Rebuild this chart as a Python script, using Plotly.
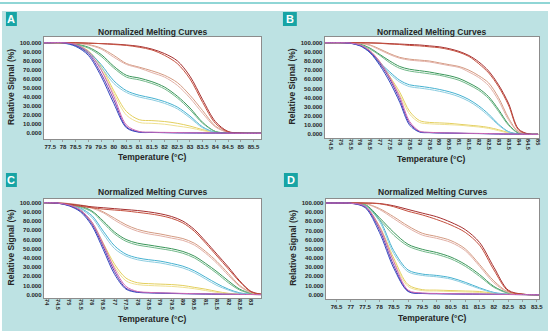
import plotly.graph_objects as go

W, H = 554, 334

# ---------------- Panel A ----------------
A_TEMP = [77.25, 77.5, 78, 78.5, 79, 79.5, 80, 80.5, 81, 81.5, 82, 82.5, 83, 83.5, 84, 84.5, 85, 85.5, 85.8]
A_PURPLE = [
    [100, 100, 100, 97, 88, 66, 37, 7, 1.5, 1, 0.8, 0.6, 0.5, 0.4, 0.3, 0.1, 0, 0, 0],
    [100, 100, 100, 96, 86, 63, 33, 6, 1.2, 0.9, 0.7, 0.5, 0.4, 0.3, 0.2, 0.1, 0, 0, 0],
    [100, 100, 100, 98, 90, 70, 41, 9, 2, 1.2, 1, 0.8, 0.6, 0.5, 0.3, 0.1, 0, 0, 0],
]
A_YELLOW = [
    [100, 100, 100, 98, 91, 74, 47, 24, 15, 14, 13, 11, 8, 4, 1, 0, 0, 0, 0],
    [100, 100, 100, 97, 89, 71, 44, 20, 12, 11, 10, 8, 6, 3, 0.8, 0, 0, 0, 0],
]
A_CYAN = [
    [100, 100, 99.5, 97, 90, 76, 58, 47, 42, 39, 35, 29, 19, 7, 1, 0, 0, 0, 0],
    [100, 100, 99.5, 96, 88, 73, 55, 45, 40, 37, 33, 27, 17, 6, 1, 0, 0, 0, 0],
]
A_GREEN = [
    [100, 100, 99.8, 98.5, 95, 87, 74, 64, 61, 57, 51, 41, 28, 12, 2, 0.3, 0, 0, 0],
    [100, 100, 99.8, 98, 94, 85, 72, 62, 59, 55, 49, 39, 26, 11, 2, 0.3, 0, 0, 0],
]
A_SALMON = [
    [100, 100, 100, 99.5, 98, 94, 86, 77, 73, 69, 64, 56, 42, 25, 8, 1, 0, 0, 0],
    [100, 100, 100, 99.5, 97.5, 93, 84, 76, 72, 67, 62, 53, 39, 22, 7, 1, 0, 0, 0],
]
A_RED = [
    [100, 100, 100, 100, 99.5, 99, 98.5, 97.5, 96, 93, 88, 80, 63, 37, 13, 2, 0.3, 0, 0],
    [100, 100, 100, 100, 99.5, 99, 98, 97, 95, 92, 86, 77, 60, 34, 11, 1.5, 0.2, 0, 0],
]
A_XTICKS = ["77.5", "78", "78.5", "79", "79.5", "80", "80.5", "81", "81.5", "82",
            "82.5", "83", "83.5", "84", "84.5", "85", "85.5"]

# ---------------- Panel B ----------------
B_TEMP = [74.2, 74.5, 75, 75.5, 76, 76.5, 77, 77.5, 78, 78.5, 79, 79.5, 80, 80.5, 81,
          81.5, 82, 82.5, 83, 83.5, 84, 84.5, 85]
B_PURPLE = [
    [100, 100, 100, 99.5, 97, 90, 77, 60, 38, 12, 3, 2, 1.6, 1.4, 1.2, 1, 0.9, 0.7, 0.5, 0.3, 0.1, 0, 0],
    [100, 100, 100, 99.3, 96.5, 89, 75, 57, 35, 10, 2.5, 1.8, 1.5, 1.3, 1.1, 0.9, 0.8, 0.6, 0.4, 0.2, 0.1, 0, 0],
    [100, 100, 100, 99.6, 97.5, 91, 79, 62, 41, 14, 3.5, 2.2, 1.8, 1.5, 1.3, 1.1, 1, 0.8, 0.6, 0.3, 0.1, 0, 0],
]
B_YELLOW = [
    [100, 100, 100, 99.6, 97.5, 91, 79, 63, 46, 25, 15, 13, 12.5, 12, 11, 10, 9, 7.5, 5, 2, 0.3, 0, 0],
    [100, 100, 100, 99.5, 97, 90, 78, 61, 43, 22, 13, 11.5, 11, 10.5, 10, 9, 8, 6.5, 4, 1.5, 0.2, 0, 0],
]
B_CYAN = [
    [100, 100, 100, 99.6, 97, 90, 78, 68, 59, 54, 52.5, 51, 49, 46.5, 43, 38, 31, 22, 11, 3, 0.5, 0, 0],
    [100, 100, 100, 99.5, 96.5, 89, 76, 66, 57, 52, 50.5, 49, 47, 44.5, 41, 36, 29, 20, 10, 2.5, 0.4, 0, 0],
]
B_GREEN = [
    [100, 100, 100, 99.8, 98.5, 94, 87, 80, 74, 71, 69.5, 68, 66, 64, 61, 56, 50, 41, 27, 11, 1.5, 0, 0],
    [100, 100, 100, 99.7, 98, 93, 86, 78, 72, 69, 67.5, 66, 64.5, 62, 59, 54, 48, 39, 25, 10, 1.2, 0, 0],
]
B_SALMON = [
    [100, 100, 100, 100, 99.5, 97.5, 93, 88, 84, 82, 81, 80, 78, 76, 74, 70, 64, 56, 40, 18, 3, 0.3, 0],
    [100, 100, 100, 100, 99.3, 97, 92, 87, 83, 81, 80, 79, 77, 75, 73, 68, 62, 53, 37, 16, 2.5, 0.2, 0],
]
B_RED = [
    [100, 100, 100, 100, 100, 99.8, 99.5, 99, 98.5, 98, 97.5, 96.5, 95.5, 93.5, 90.5, 86, 79, 69, 54, 34, 6, 0.5, 0],
    [100, 100, 100, 100, 100, 99.7, 99.3, 98.5, 98, 97, 96.5, 95.5, 94.5, 92.5, 89.5, 85, 77, 67, 52, 32, 5, 0.4, 0],
]
B_XTICKS = ["74.5", "75", "75.5", "76", "76.5", "77", "77.5", "78", "78.5", "79", "79.5",
            "80", "80.5", "81", "81.5", "82", "82.5", "83", "83.5", "84", "84.5", "85"]

# ---------------- Panel C ----------------
C_TEMP = [73.88, 74, 74.5, 75, 75.5, 76, 76.5, 77, 77.5, 78, 78.5, 79, 79.5, 80, 80.5,
          81, 81.5, 82, 82.5, 83, 83.44]
C_PURPLE = [
    [100, 100, 99.5, 97, 91, 77, 52, 25, 7, 3, 2.2, 1.8, 1.5, 1.2, 1, 0.8, 0.6, 0.4, 0.3, 0.2, 0.1],
    [100, 100, 99.4, 96.5, 90, 75, 49, 22, 6, 2.5, 2, 1.6, 1.3, 1.1, 0.9, 0.7, 0.5, 0.4, 0.3, 0.2, 0.1],
    [100, 100, 99.6, 97.5, 92, 79, 55, 28, 9, 3.5, 2.5, 2, 1.7, 1.4, 1.1, 0.9, 0.7, 0.5, 0.3, 0.2, 0.1],
]
C_YELLOW = [
    [100, 100, 99.6, 97.5, 92, 79, 56, 33, 18, 13, 12, 11.5, 11, 10, 8, 6, 3.5, 1.5, 0.5, 0.2, 0.1],
    [100, 100, 99.5, 97, 91, 78, 54, 30, 15, 11, 10, 9.5, 9, 8, 6.5, 4.5, 2.5, 1, 0.4, 0.2, 0.1],
]
C_CYAN = [
    [100, 100, 99.7, 98, 94, 86, 69, 53, 44, 40, 38, 36.5, 34, 31, 26, 19, 12, 6, 2, 0.5, 0.2],
    [100, 100, 99.6, 97.5, 93, 84, 66, 50, 42, 38, 36, 34.5, 32, 29, 24, 17, 10, 5, 1.5, 0.4, 0.2],
]
C_GREEN = [
    [100, 100, 99.8, 98.5, 96, 91, 80, 68, 60, 56, 54, 52, 50, 47, 42, 34, 25, 15, 6, 1.5, 0.3],
    [100, 100, 99.7, 98, 95, 90, 78, 66, 58, 54, 52, 50, 48, 45, 40, 32, 23, 13, 5, 1.2, 0.3],
]
C_SALMON = [
    [100, 100, 100, 99, 97.5, 95, 90, 83, 76, 71, 68, 66, 63.5, 61, 56, 47, 36, 23, 10, 2.5, 0.5],
    [100, 100, 100, 98.8, 97, 94, 89, 81, 74, 69, 66, 64, 61.5, 59, 54, 45, 34, 21, 9, 2, 0.4],
]
C_RED = [
    [100, 100, 99.5, 98.5, 97, 95.5, 94.5, 93.5, 92.5, 91.5, 90, 88, 85, 80, 71, 58, 44, 30, 15, 3.5, 0.5],
    [100, 100, 99.3, 98, 96, 94.5, 93, 92, 91, 89.5, 88, 86, 83, 78, 69, 56, 42, 28, 14, 3, 0.5],
]
C_XTICKS = ["74", "74.5", "75", "75.5", "76", "76.5", "77", "77.5", "78", "78.5",
            "79", "79.5", "80", "80.5", "81", "81.5", "82", "82.5", "83"]

# ---------------- Panel D ----------------
D_TEMP = [76.1, 76.5, 77, 77.5, 78, 78.5, 79, 79.5, 80, 80.5, 81, 81.5, 82, 82.5, 83, 83.5, 83.6]
D_PURPLE = [
    [100, 100, 99.8, 96, 71, 32, 4, 1.5, 1.2, 1, 0.8, 0.6, 0.4, 0.2, 0.1, 0, 0],
    [100, 100, 99.7, 95, 68, 29, 3.5, 1.3, 1, 0.8, 0.6, 0.5, 0.3, 0.2, 0.1, 0, 0],
    [100, 100, 99.8, 96.5, 74, 36, 5, 1.8, 1.4, 1.1, 0.9, 0.7, 0.5, 0.3, 0.1, 0, 0],
]
D_YELLOW = [
    [100, 100, 99.8, 96.5, 75, 40, 11, 5.5, 5, 4.5, 4, 3.5, 1.5, 0.5, 0.1, 0, 0],
    [100, 100, 99.7, 96, 73, 37, 9, 4.5, 4, 3.5, 3, 2.5, 1, 0.3, 0.1, 0, 0],
]
D_CYAN = [
    [100, 100, 99.8, 97.5, 82, 48, 27, 22.5, 21, 18.5, 13.5, 7.5, 2.5, 0.6, 0.2, 0, 0],
    [100, 100, 99.7, 97, 80, 45, 25, 21, 19.5, 17, 12, 6.5, 2, 0.5, 0.2, 0, 0],
]
D_GREEN = [
    [100, 100, 99.9, 98.5, 84, 68, 55, 49.5, 46, 41, 33, 22, 9, 2, 0.4, 0, 0],
    [100, 100, 99.8, 98, 82, 65, 53, 47.5, 44, 39, 31, 20, 8, 1.6, 0.3, 0, 0],
]
D_SALMON = [
    [100, 100, 100, 99.5, 94, 85, 75, 67, 63.5, 59, 50, 33, 15, 3, 0.5, 0, 0],
    [100, 100, 100, 99.3, 93, 83, 73, 65, 61.5, 57, 48, 31, 13, 2.5, 0.4, 0, 0],
]
D_RED = [
    [100, 100, 100, 100, 99.5, 97, 93, 89, 85, 79, 71, 57, 30, 5, 0.6, 0, 0],
    [100, 100, 100, 100, 99.2, 96, 91, 87, 82, 76, 68, 54, 27, 4, 0.5, 0, 0],
]
D_XTICKS = ["76.5", "77", "77.5", "78", "78.5", "79", "79.5", "80", "80.5", "81",
            "81.5", "82", "82.5", "83", "83.5"]

Y_TICKS = ["0.000", "10.000", "20.000", "30.000", "40.000", "50.000",
           "60.000", "70.000", "80.000", "90.000", "100.000"]
Y_VALUES = [0, 10, 20, 30, 40, 50, 60, 70, 80, 90, 100]

# line colours for each replicate in a group
COLORS = {
    "yellow": ["#e3cf5e", "#efe08f"],
    "cyan": ["#45b1d0", "#8ccde0"],
    "green": ["#3a9659", "#72b98a"],
    "salmon": ["#d39a82", "#e2b0a6"],
    "red": ["#a52f2f", "#c4503f"],
    "purple": ["#6a3ea8", "#3548c0", "#d06ab4"],
}

TEAL_BG = "#bde2e3"
TEAL_DARK = "#17a4a5"
TEXT = "#262626"
FONT = "Liberation Sans, Arial, sans-serif"

PANELS = [
    dict(letter="A", temp=A_TEMP, xticks=A_XTICKS, xrange=[77.24, 85.8], yrange=[-6.3, 106.3],
         box=(44, 263, 37, 139), angle=0, tag=(6, 17, 12, 26), title_y=32, xtitle_y=157,
         groups=dict(yellow=A_YELLOW, cyan=A_CYAN, green=A_GREEN, salmon=A_SALMON,
                     red=A_RED, purple=A_PURPLE)),
    dict(letter="B", temp=B_TEMP, xticks=B_XTICKS, xrange=[74.2, 85.05], yrange=[-4.0, 106.2],
         box=(327, 543, 37, 138), angle=90, tag=(285, 299, 12, 26), title_y=32, xtitle_y=159,
         groups=dict(yellow=B_YELLOW, cyan=B_CYAN, green=B_GREEN, salmon=B_SALMON,
                     red=B_RED, purple=B_PURPLE)),
    dict(letter="C", temp=C_TEMP, xticks=C_XTICKS, xrange=[73.88, 83.44], yrange=[-3.6, 104.0],
         box=(44, 263, 199, 298), angle=90, tag=(6, 17, 173, 187), title_y=192, xtitle_y=319,
         groups=dict(yellow=C_YELLOW, cyan=C_CYAN, green=C_GREEN, salmon=C_SALMON,
                     red=C_RED, purple=C_PURPLE)),
    dict(letter="D", temp=D_TEMP, xticks=D_XTICKS, xrange=[76.12, 83.58], yrange=[-4.7, 104.4],
         box=(328, 543, 199, 299), angle=0, tag=(286, 300, 173, 187), title_y=192, xtitle_y=318,
         groups=dict(yellow=D_YELLOW, cyan=D_CYAN, green=D_GREEN, salmon=D_SALMON,
                     red=D_RED, purple=D_PURPLE)),
]


def px(x):
    return x / W


def py(y):
    return 1 - y / H


fig = go.Figure()
shapes = [
    dict(type="rect", xref="paper", yref="paper", x0=px(2), x1=px(552), y0=py(331), y1=py(11),
         fillcolor=TEAL_BG, line_width=0, layer="below"),
    dict(type="line", xref="paper", yref="paper", x0=0, x1=1, y0=py(3), y1=py(3),
         line=dict(color="#22adad", width=1.2)),
]
annotations = []
layout_axes = {}

for i, p in enumerate(PANELS):
    n = "" if i == 0 else str(i + 1)
    xa, ya = "x" + n, "y" + n
    x0, x1, y0, y1 = p["box"]
    rotated = p["angle"] != 0
    xfont = dict(family=FONT, size=5.5 if rotated else 6, color=TEXT, weight="bold")
    yfont = dict(family=FONT, size=6, color=TEXT, weight="bold")
    layout_axes["xaxis" + n] = dict(
        domain=[px(x0), px(x1)], anchor=ya, range=p["xrange"], showgrid=False, zeroline=False,
        tickmode="array", tickvals=[float(t) for t in p["xticks"]], ticktext=p["xticks"],
        tickangle=p["angle"], tickfont=xfont, ticks="outside", ticklen=2,
        ticklabelstandoff=-3 if rotated else 0,
        tickcolor="#9a9a9a", showline=True, mirror=True, linecolor="#8c8c8c", linewidth=1,
    )
    layout_axes["yaxis" + n] = dict(
        domain=[py(y1), py(y0)], anchor=xa, range=p["yrange"], showgrid=False, zeroline=False,
        tickmode="array", tickvals=Y_VALUES, ticktext=Y_TICKS, tickfont=yfont,
        ticks="", showline=True, mirror=True, linecolor="#8c8c8c", linewidth=1,
    )
    for gname in ["yellow", "cyan", "green", "salmon", "red", "purple"]:
        for k, vals in enumerate(p["groups"][gname]):
            fig.add_trace(go.Scatter(
                x=p["temp"], y=vals, xaxis=xa, yaxis=ya, mode="lines",
                line=dict(color=COLORS[gname][k], width=1, shape="spline", smoothing=0.9),
                showlegend=False, hoverinfo="skip",
            ))
    cx = (x0 + x1) / 2
    title_font = dict(family=FONT, size=8.5, color=TEXT, weight="bold")
    annotations.append(dict(text="Normalized Melting Curves", x=px(cx), y=py(p["title_y"]),
                            xref="paper", yref="paper", showarrow=False, font=title_font,
                            xanchor="center", yanchor="middle"))
    annotations.append(dict(text="Temperature (°C)", x=px(cx), y=py(p["xtitle_y"]),
                            xref="paper", yref="paper", showarrow=False, font=title_font,
                            xanchor="center", yanchor="middle"))
    annotations.append(dict(text="Relative Signal (%)", x=px(x0 - 33), y=py((y0 + y1) / 2 - 1),
                            xref="paper", yref="paper", showarrow=False, font=title_font,
                            textangle=-90, xanchor="center", yanchor="middle"))
    tx0, tx1, ty0, ty1 = p["tag"]
    shapes.append(dict(type="rect", xref="paper", yref="paper", x0=px(tx0), x1=px(tx1),
                       y0=py(ty1), y1=py(ty0), fillcolor=TEAL_DARK, line_width=0))
    annotations.append(dict(text=p["letter"], x=px((tx0 + tx1) / 2), y=py((ty0 + ty1) / 2),
                            xref="paper", yref="paper", showarrow=False,
                            font=dict(family=FONT, size=11, color="white", weight="bold"),
                            xanchor="center", yanchor="middle"))
    # white plotting area
    shapes.append(dict(type="rect", xref="paper", yref="paper", x0=px(x0), x1=px(x1),
                       y0=py(y1), y1=py(y0), fillcolor="white", line_width=0, layer="below"))

fig.update_layout(
    width=W, height=H, margin=dict(l=0, r=0, t=0, b=0),
    paper_bgcolor="white", plot_bgcolor="rgba(0,0,0,0)",
    shapes=shapes, annotations=annotations, **layout_axes,
)

fig.write_html("out.html")
